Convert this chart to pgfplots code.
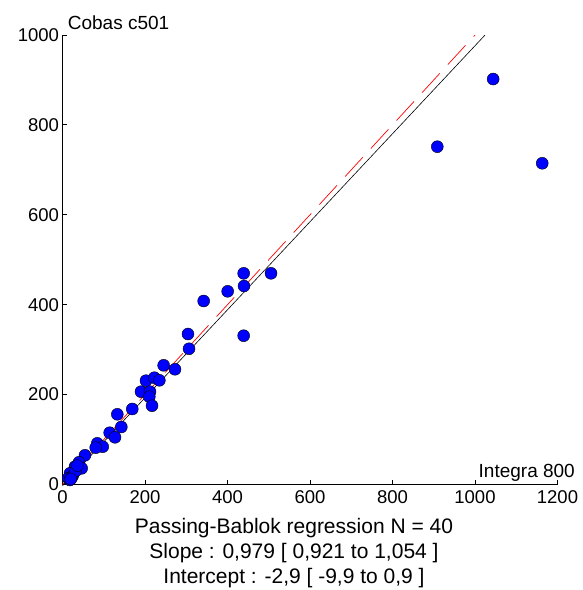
\documentclass[border=0pt]{standalone}
\usepackage{fontspec}
\setmainfont{Liberation Sans}
\usepackage{pgfplots}
\pgfplotsset{compat=1.18}
\begin{document}
\begin{tikzpicture}
\begin{axis}[
  at={(0,0)}, anchor=south west,
  scale only axis, width=495pt, height=449.5pt,
  xmin=0, xmax=1200, ymin=0, ymax=1000,
  axis x line=bottom, axis y line=left,
  axis line style={-, black, line width=0.8pt},
  tick align=inside, major tick length=5pt,
  tick style={black, line width=0.8pt},
  xtick={0,200,...,1200}, ytick={0,200,...,1000},
  ticklabel style={font=\fontsize{18.5}{20}\selectfont},
  xticklabel style={yshift=-3pt},
  /pgf/number format/assume math mode=true,
  /pgf/number format/1000 sep={},
  clip=false,
]
\addplot[red, line width=0.7pt, dash pattern=on 26pt off 12pt] coordinates {(0,0) (1000,1000)};
\addplot[black, line width=0.6pt] coordinates {(0,-2.9) (1024,999.6)};
\addplot[only marks, mark=*, mark size=6pt, mark options={fill=blue, draw=black, line width=0.4pt}] coordinates {
(1044,902) (908.6,751.5) (1163,714.6)
(439.2,469.8) (505.5,469.8) (440,441.6) (400.4,429.8) (342.2,408.2)
(439.2,331) (304.2,334.8) (306.7,302) (245.2,265.2) (272.7,256.3)
(202.4,231) (222.6,237.6) (234.8,231.8) (190.3,206.5) (212.1,206.5)
(210.5,195.3) (217,175.3) (169.2,168) (132.9,156.2) (142.6,128)
(114.4,115.2) (127.3,105) (84.4,91.6) (97.5,84.1) (80.5,81.9)
(54.5,65) (40,49.4) (46.5,36) (30.3,39.6) (18.2,24.9) (14,13.8) (18,10)
(25,20) (22,15) (32,30) (36,42) (20,12)
};
\end{axis}
\path (-62.5pt,-105.5pt) rectangle (519.5pt,484.5pt);
\node[anchor=base west, font=\fontsize{19}{22}\selectfont, inner sep=0pt] at (5.2pt,454.5pt) {Cobas c501};
\node[anchor=base east, font=\fontsize{19}{22}\selectfont, inner sep=0pt] at (512.5pt,7.5pt) {Integra 800};
\node[anchor=base, font=\fontsize{21}{22}\selectfont, inner sep=0pt] at (231.5pt,-48.8pt) {Passing-Bablok regression N = 40};
\node[anchor=base, font=\fontsize{21}{22}\selectfont, inner sep=0pt] at (231.5pt,-73.8pt) {Slope : 0,979 [ 0,921 to 1,054 ]};
\node[anchor=base, font=\fontsize{21}{22}\selectfont, inner sep=0pt] at (231.5pt,-98.8pt) {Intercept : -2,9 [ -9,9 to 0,9 ]};
\end{tikzpicture}
\end{document}
